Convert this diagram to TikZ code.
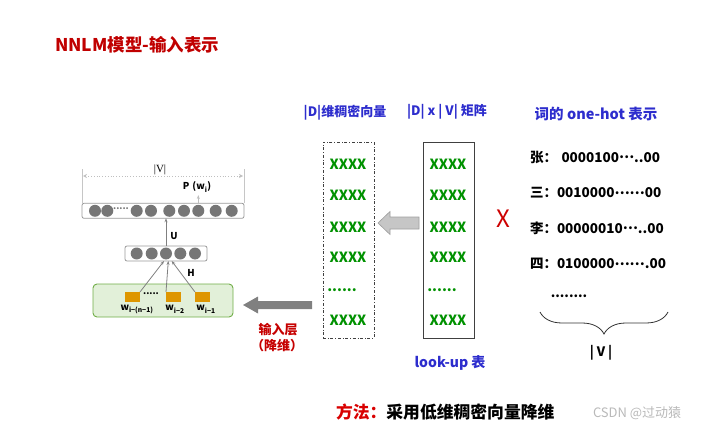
\documentclass[tikz,border=0pt]{standalone}
\usepackage{fontspec}
\setmainfont{Noto Sans CJK SC}
\newfontfamily\seriffont{Liberation Serif}
\usetikzlibrary{decorations.pathreplacing,arrows.meta}
\definecolor{titlered}{RGB}{192,0,0}
\definecolor{hblue}{RGB}{45,45,205}
\definecolor{xgreen}{RGB}{0,145,0}
\definecolor{boxgreen}{RGB}{226,240,217}
\definecolor{edgegreen}{RGB}{112,173,71}
\definecolor{wordorange}{RGB}{222,150,0}
\definecolor{dotgray}{RGB}{118,118,118}
\newcommand{\mdots}[1]{\raisebox{0.28em}{#1}}
\begin{document}
\begin{tikzpicture}[x=1pt,y=-1pt,
  every node/.style={inner sep=0pt, outer sep=0pt},
  dotc/.style={circle, fill=dotgray, minimum size=12pt},
  layerbox/.style={draw=gray!80, rounded corners=2pt, line width=0.8pt},
  wordsq/.style={fill=wordorange, minimum width=15pt, minimum height=10pt},
  netlbl/.style={font=\fontsize{9.5}{10}\selectfont\bfseries},
  netarrow/.style={draw=gray, line width=0.8pt, -{Stealth[length=4pt,width=3pt]}},
  xx/.style={text=xgreen, font=\fontsize{14}{15}\selectfont\bfseries},
  head/.style={text=hblue, font=\fontsize{13}{15}\selectfont\bfseries},
  row/.style={anchor=west, font=\fontsize{13.5}{15}\selectfont\bfseries},
  matbox/.style={minimum width=51pt, minimum height=196pt}
]
\useasboundingbox (0,0) rectangle (710,433);

% title
\node[anchor=west, text=titlered, font=\fontsize{17.5}{19}\selectfont\bfseries] (title) at (55,45) {NNLM模型-输入表示};

% ---------- left network ----------
\node[layerbox, minimum width=162pt, minimum height=15pt] (obox) at (163,210.8) {};
\foreach \x [count=\i] in {95,107.3,136.7,151,169.3,184,198.3,215.7,231.7}
  \node[dotc] (o\i) at (\x,210.8) {};
\node[font=\fontsize{9}{10}\selectfont\bfseries, text=dotgray] (odots) at (121,209) {.....};

\node[layerbox, minimum width=82pt, minimum height=15pt] (hbox) at (166,253.5) {};
\foreach \x [count=\i] in {136.7,151.7,166,180.3,195}
  \node[dotc] (h\i) at (\x,253.5) {};

\node[draw=edgegreen, fill=boxgreen, rounded corners=4pt, line width=0.9pt, minimum width=140pt, minimum height=33pt] (inbox) at (163,300.5) {};
\node[wordsq] (s1) at (132.5,297) {};
\node[wordsq] (s2) at (173.5,297) {};
\node[wordsq] (s3) at (202.5,297) {};
\node[font=\fontsize{9}{10}\selectfont\bfseries] (sdots) at (151,294) {.....};
\node[netlbl] (w1) at (137,309.5) {w\textsubscript{i−(n−1)}};
\node[netlbl] (w2) at (175,309.5) {w\textsubscript{i−2}};
\node[netlbl] (w3) at (206,309.5) {w\textsubscript{i−1}};

\draw[netarrow] (s1.north east) -- (164,261);
\draw[netarrow] (s2.north west) -- (168.3,261);
\draw[netarrow] (s3.north west) -- (171.7,261);
\node[netlbl] (H) at (191,273) {H};

\draw[netarrow] (hbox.north) -- (obox.south -| hbox.north);
\node[netlbl] (U) at (174,236) {U};

\coordinate (pbase) at (198.3,203);
\draw[draw=gray!50, line width=0.8pt, -{Stealth[length=4pt,width=3pt]}] (pbase) -- (198.3,195);
\node[netlbl] (P) at (197,187) {P\,\,(w\textsubscript{i})};

\coordinate (vl) at (83,176);
\coordinate (vr) at (243,176);
\draw[gray!45, line width=0.6pt] (obox.north west) -- (82,169);
\draw[gray!45, line width=0.6pt] (obox.north east) -- (244,169);
\draw[gray!50, dotted, line width=0.8pt, {Stealth[length=4pt,width=4pt,open]}-{Stealth[length=4pt,width=4pt,open]}] (vl) -- (vr);
\node[font=\seriffont\fontsize{11}{12}\selectfont] (Vtop) at (160,170) {|V|};

% ---------- middle: dense vectors ----------
\node[matbox, draw=black!75, dash dot, line width=0.7pt] (dense) at (348.5,240) {};
\node[matbox, draw=black!75, line width=0.8pt] (lookup) at (448.5,240) {};
\node[head] (hd1) at (345,113) {|D|维稠密向量};
\node[head] (hd2) at (447,112) {|D| x | V| 矩阵};
\node[head, font=\fontsize{14}{15}\selectfont\bfseries] (hd3) at (450,363) {look-up 表};

\foreach \y [count=\i] in {164,195,227,257,320}{
  \node[xx] (d\i) at (348,\y) {XXXX};
  \node[xx] (l\i) at (448,\y) {XXXX};
}
\node[xx] (ddots) at (342,290) {......};
\node[xx] (ldots) at (442,290) {......};

% hollow arrow lookup -> dense
\fill[gray!45, draw=gray!75, line width=0.6pt]
  (419,217) -- (390,217) -- (390,211.5) -- (378,223) -- (390,234.5) -- (390,229) -- (419,229) -- cycle;

% dark arrow dense -> input layer
\fill[black!50]
  (312,301) -- (258,301) -- (258,296.5) -- (243,305) -- (258,313.5) -- (258,309) -- (312,309) -- cycle;

\node[text=titlered!90!red, font=\fontsize{13}{15}\selectfont\bfseries] (inlayer) at (278,330) {输入层};
\node[text=titlered!90!red, font=\fontsize{13}{15}\selectfont\bfseries] (inlayer2) at (277,346) {（降维）};

% red X
\node[text=titlered!80!red, font=\fontsize{24}{26}\selectfont] (times) at (503,219) {X};

% ---------- right: one-hot ----------
\node[head, font=\fontsize{14.5}{16}\selectfont\bfseries] (hd4) at (596,114) {词的 one-hot 表示};
\node[row] (r1) at (530,157) {张：\,\,0000100\mdots{…}..00};
\node[row] (r2) at (530,193) {三：0010000\mdots{……}00};
\node[row] (r3) at (530,228) {李：00000010\mdots{…}..00};
\node[row] (r4) at (530,264) {四：0100000\mdots{……}.00};
\node[font=\fontsize{13}{15}\selectfont\bfseries] (rdots) at (569,296) {........};
\coordinate (bl) at (540,312);
\coordinate (br) at (668,312);
\draw[black!80, line width=0.8pt, decorate, decoration={brace, mirror, amplitude=22pt, aspect=0.5}] (bl) -- (br);
\node[font=\fontsize{13}{15}\selectfont\bfseries] (Vbot) at (601,353) {| V |};

% bottom
\node[anchor=west, font=\fontsize{16.8}{18}\selectfont\bfseries] (method) at (336,412) {\textcolor{red!85!black}{方法：}采用低维稠密向量降维};
\node[anchor=west, text=gray!55, font=\fontsize{13}{15}\selectfont] (wm) at (593,413) {CSDN @过动猿};
\end{tikzpicture}
\end{document}
